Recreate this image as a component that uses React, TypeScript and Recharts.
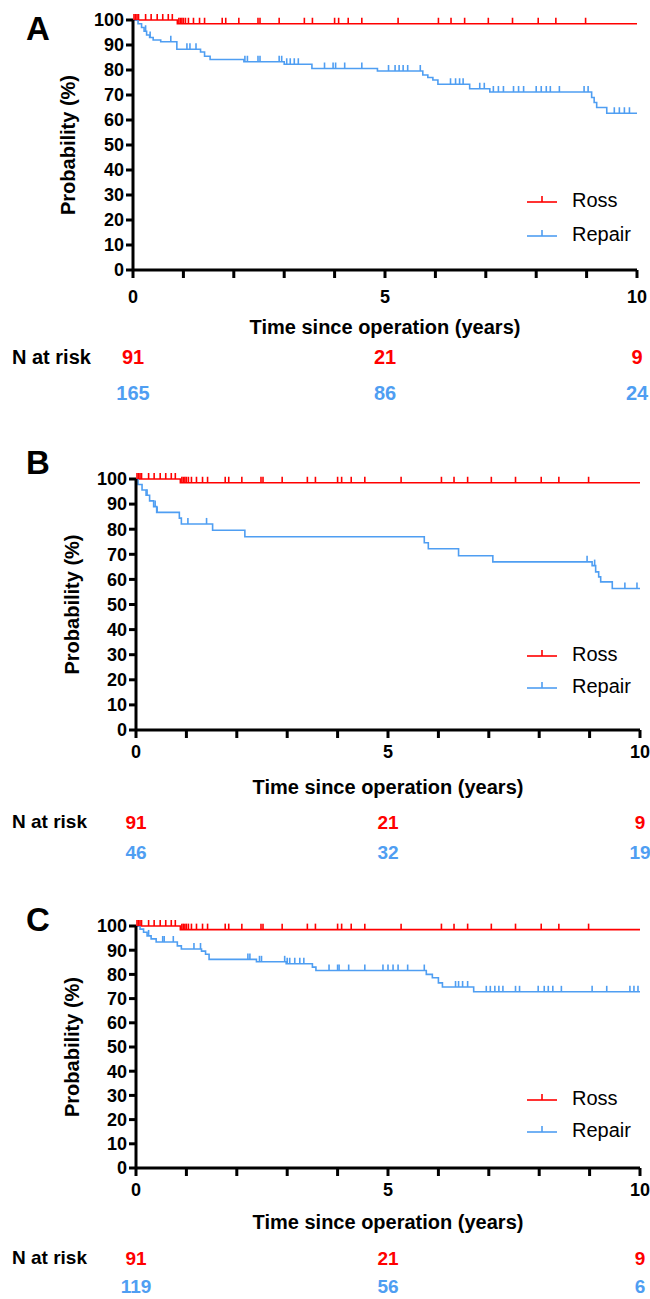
import React from "react";
import { ComposedChart, Line, Scatter, XAxis, YAxis, Legend } from "recharts";

const RED = "#ff0000";
const BLUE = "#4f9ef2";
const FONT = "'Liberation Sans', Arial, sans-serif";

const yTicks = [0, 10, 20, 30, 40, 50, 60, 70, 80, 90, 100];
const xTicks = [0, 1, 2, 3, 4, 5, 6, 7, 8, 9, 10];
const xLabelled = [0, 5, 10];
const riskTimes = [0, 5, 10];

// Ross cohort (same curve in every panel)
const rossTimes = [0, 0.88, 10];
const rossSurv = [100, 98.5, 98.5];
const rossCensor = [
    0.02, 0.05, 0.08, 0.11, 0.25, 0.36, 0.48, 0.59, 0.7, 0.78, 0.91, 0.94, 0.97, 1.0, 1.04, 1.1, 1.2,
    1.32, 1.42, 1.77, 1.84, 2.1, 2.48, 2.52, 2.9, 3.4, 3.56, 4.0, 4.08, 4.27, 4.54, 5.26, 6.06, 6.31,
    6.58, 7.05, 7.53, 8.04, 8.39, 8.98,
];
const rossRisk = [91, 21, 9];

// Panel A - repair
const repairATimes = [0, 0.1, 0.17, 0.22, 0.27, 0.33, 0.4, 0.55, 0.87, 1.34, 1.42, 1.53, 2.2, 3.0, 3.55, 4.85, 5.75, 5.85, 5.95, 6.05, 6.68, 7.08, 9.1, 9.15, 9.2, 9.4, 10];
const repairASurv = [100, 98.5, 97, 95.5, 94, 93, 92, 91.3, 88.3, 87.2, 85.5, 84.2, 83.3, 82.3, 80.6, 79.6, 78, 77, 76, 74.3, 72.5, 71.2, 69, 67, 65, 62.7, 62.7];
const repairACensor = [
    0.25, 0.34, 0.75, 1.07, 1.13, 1.25, 2.22, 2.27, 2.48, 2.52, 2.9, 2.95, 3.05, 3.12, 3.2, 3.28, 3.8,
    3.97, 4.02, 4.2, 4.54, 5.07, 5.2, 5.28, 5.36, 5.45, 5.7, 6.3, 6.4, 6.48, 6.55, 6.88, 6.97, 7.15,
    7.25, 7.35, 7.55, 7.65, 7.75, 8.0, 8.1, 8.2, 8.28, 8.46, 8.95, 9.03, 9.55, 9.65, 9.75, 9.85,
];
const repairARisk = [165, 86, 24];

// Panel B - repair
const repairBTimes = [0, 0.04, 0.12, 0.2, 0.27, 0.35, 0.41, 0.86, 0.9, 1.52, 2.16, 5.72, 5.8, 6.4, 7.08, 9.05, 9.12, 9.18, 9.22, 9.45, 10];
const repairBSurv = [100, 97.8, 95.6, 93.5, 91.3, 89, 86.7, 84.4, 82.1, 79.6, 77, 74.6, 72.2, 69.4, 67, 65.5, 63, 61, 59, 56.4, 56.4];
const repairBCensor = [0.22, 0.38, 0.42, 1.03, 1.4, 8.95, 9.1, 9.7, 9.94];
const repairBRisk = [46, 32, 19];

// Panel C - repair
const repairCTimes = [0, 0.08, 0.15, 0.22, 0.3, 0.4, 0.82, 0.9, 1.3, 1.38, 1.45, 2.39, 2.98, 3.5, 3.57, 5.76, 5.88, 6.0, 6.08, 6.7, 10];
const repairCSurv = [100, 98.7, 97.4, 95.9, 94.7, 93.4, 91.8, 90.5, 89.6, 88.3, 86.2, 85.2, 84.4, 83, 81.6, 80, 78.6, 76.5, 74.8, 72.8, 72.8];
const repairCCensor = [
    0.25, 0.53, 0.56, 0.74, 1.15, 1.28, 2.22, 2.26, 2.45, 2.49, 2.95, 3.0, 3.05, 3.15, 3.25, 3.33, 3.83,
    4.0, 4.03, 4.22, 4.54, 4.9, 5.0, 5.1, 5.2, 5.39, 5.72, 6.34, 6.4, 6.48, 6.58, 6.95, 7.03, 7.12, 7.2,
    7.28, 7.53, 7.61, 7.98, 8.1, 8.18, 8.27, 8.44, 9.05, 9.34, 9.8, 9.88, 9.96,
];
const repairCRisk = [119, 56, 6];

type Pt = { t: number; s: number };

const steps = (times: number[], surv: number[]): Pt[] => times.map((t, i) => ({ t, s: surv[i] }));

// survival level of the step curve at time t
const levelAt = (times: number[], surv: number[], t: number) => {
    let v = surv[0];
    times.forEach((tt, i) => {
        if (tt <= t) v = surv[i];
    });
    return v;
};

const censors = (times: number[], surv: number[], cens: number[]): Pt[] =>
    cens.map((t) => ({ t, s: levelAt(times, surv, t) }));

const censorShape = (color: string) => (p: any) => (
    <line x1={p.cx} x2={p.cx} y1={p.cy} y2={p.cy - 6} stroke={color} strokeWidth={1.6} />
);

const series = [
    { name: "Ross", color: RED },
    { name: "Repair", color: BLUE },
];

type Layout = {
    top: number;
    height: number;
    plotTop: number;
    plotBottom: number;
    left: number;
    right: number;
    tickY: number;
    titleY: number;
    risk1: number;
    risk2: number;
    leg1: number;
    leg2: number;
    letter: string;
    letterY: number;
    yTitleX: number;
    riskFont: number;
};

const layouts: Layout[] = [
    { top: 0, height: 412, plotTop: 20, plotBottom: 270, left: 133, right: 637, tickY: 297, titleY: 327, risk1: 357, risk2: 393, leg1: 200, leg2: 234, letter: "A", letterY: 29, yTitleX: 68, riskFont: 20 },
    { top: 440, height: 427, plotTop: 479, plotBottom: 730, left: 136, right: 640, tickY: 752, titleY: 787, risk1: 822, risk2: 852, leg1: 654, leg2: 686, letter: "B", letterY: 463, yTitleX: 72, riskFont: 19 },
    { top: 890, height: 409, plotTop: 926, plotBottom: 1168, left: 136, right: 640, tickY: 1190, titleY: 1222, risk1: 1258, risk2: 1286, leg1: 1098, leg2: 1130, letter: "C", letterY: 920, yTitleX: 72, riskFont: 19 },
];

type PanelProps = {
    lay: Layout;
    repTimes: number[];
    repSurv: number[];
    repCensor: number[];
    repRisk: number[];
};

function KMPanel({ lay, repTimes, repSurv, repCensor, repRisk }: PanelProps) {
    const rel = (y: number) => y - lay.top;
    const axisH = lay.height - rel(lay.plotBottom);
    const legGap = lay.leg2 - lay.leg1;
    const midY = (rel(lay.plotTop) + rel(lay.plotBottom)) / 2;

    // x tick: year label, plus the numbers at risk under 0, 5 and 10
    const timeTick = (p: any) => {
        const v = p.payload.value;
        const k = riskTimes.indexOf(v);
        return (
            <g fontFamily={FONT} fontWeight="bold" textAnchor="middle">
                {xLabelled.includes(v) && (
                    <text x={p.x} y={rel(lay.tickY)} dy="0.35em" fontSize={18} fill="#000">
                        {v}
                    </text>
                )}
                {k >= 0 && (
                    <text x={p.x} y={rel(lay.risk1)} dy="0.35em" fontSize={lay.riskFont} fill={RED}>
                        {rossRisk[k]}
                    </text>
                )}
                {k >= 0 && (
                    <text x={p.x} y={rel(lay.risk2)} dy="0.35em" fontSize={lay.riskFont} fill={BLUE}>
                        {repRisk[k]}
                    </text>
                )}
            </g>
        );
    };

    return (
        <div style={{ position: "absolute", top: lay.top, left: 0, width: 650, height: lay.height }}>
            <div
                style={{
                    position: "absolute",
                    left: 26,
                    top: rel(lay.letterY) - 22,
                    fontFamily: FONT,
                    fontWeight: "bold",
                    fontSize: 33,
                    lineHeight: "44px",
                }}
            >
                {lay.letter}
            </div>
            <div
                style={{
                    position: "absolute",
                    left: 12,
                    top: rel(lay.risk1) - 15,
                    fontFamily: FONT,
                    fontWeight: "bold",
                    fontSize: lay.riskFont,
                    lineHeight: "30px",
                }}
            >
                N at risk
            </div>
            <ComposedChart
                width={650}
                height={lay.height}
                margin={{ top: rel(lay.plotTop), right: 650 - lay.right, left: 0, bottom: 0 }}
            >
                <YAxis
                    type="number"
                    dataKey="s"
                    domain={[0, 100]}
                    ticks={yTicks}
                    width={lay.left}
                    interval={0}
                    axisLine={{ stroke: "#000", strokeWidth: 3 }}
                    tickLine={{ stroke: "#000", strokeWidth: 3 }}
                    tickSize={7}
                    tickMargin={2}
                    tick={{ fill: "#000", fontFamily: FONT, fontWeight: "bold", fontSize: 18 }}
                    label={{
                        content: () => (
                            <text
                                x={lay.yTitleX}
                                y={midY}
                                transform={`rotate(-90 ${lay.yTitleX} ${midY})`}
                                dy="0.35em"
                                textAnchor="middle"
                                fontFamily={FONT}
                                fontWeight="bold"
                                fontSize={20}
                                fill="#000"
                            >
                                Probability (%)
                            </text>
                        ),
                    }}
                />
                <XAxis
                    xAxisId="main"
                    type="number"
                    dataKey="t"
                    domain={[0, 10]}
                    ticks={xTicks}
                    interval={0}
                    height={axisH}
                    axisLine={{ stroke: "#000", strokeWidth: 3 }}
                    tickLine={{ stroke: "#000", strokeWidth: 3 }}
                    tickSize={8}
                    tick={timeTick}
                    label={{
                        content: () => (
                            <text
                                x={(lay.left + lay.right) / 2}
                                y={rel(lay.titleY)}
                                dy="0.35em"
                                textAnchor="middle"
                                fontFamily={FONT}
                                fontWeight="bold"
                                fontSize={20}
                                fill="#000"
                            >
                                Time since operation (years)
                            </text>
                        ),
                    }}
                />
                <Legend
                    layout="vertical"
                    align="center"
                    verticalAlign="middle"
                    wrapperStyle={{ left: 527, top: rel(lay.leg1) - legGap / 2, width: 123 }}
                    content={() => (
                        <div style={{ fontFamily: FONT, fontSize: 20 }}>
                            {series.map((s) => (
                                <div key={s.name} style={{ display: "flex", alignItems: "center", height: legGap }}>
                                    <svg width={30} height={16}>
                                        <line x1={0} x2={30} y1={10} y2={10} stroke={s.color} strokeWidth={1.6} />
                                        <line x1={15} x2={15} y1={10} y2={4} stroke={s.color} strokeWidth={1.6} />
                                    </svg>
                                    <span style={{ marginLeft: 15 }}>{s.name}</span>
                                </div>
                            ))}
                        </div>
                    )}
                />
                <Line
                    xAxisId="main"
                    data={steps(rossTimes, rossSurv)}
                    dataKey="s"
                    type="stepAfter"
                    stroke={RED}
                    strokeWidth={1.6}
                    dot={false}
                    isAnimationActive={false}
                />
                <Line
                    xAxisId="main"
                    data={steps(repTimes, repSurv)}
                    dataKey="s"
                    type="stepAfter"
                    stroke={BLUE}
                    strokeWidth={1.6}
                    dot={false}
                    isAnimationActive={false}
                />
                <Scatter
                    xAxisId="main"
                    data={censors(rossTimes, rossSurv, rossCensor)}
                    dataKey="s"
                    shape={censorShape(RED)}
                    isAnimationActive={false}
                />
                <Scatter
                    xAxisId="main"
                    data={censors(repTimes, repSurv, repCensor)}
                    dataKey="s"
                    shape={censorShape(BLUE)}
                    isAnimationActive={false}
                />
            </ComposedChart>
        </div>
    );
}

export default function App() {
    return (
        <div style={{ position: "absolute", top: 0, left: 0, width: 650, height: 1299, background: "#fff" }}>
            <KMPanel lay={layouts[0]} repTimes={repairATimes} repSurv={repairASurv} repCensor={repairACensor} repRisk={repairARisk} />
            <KMPanel lay={layouts[1]} repTimes={repairBTimes} repSurv={repairBSurv} repCensor={repairBCensor} repRisk={repairBRisk} />
            <KMPanel lay={layouts[2]} repTimes={repairCTimes} repSurv={repairCSurv} repCensor={repairCCensor} repRisk={repairCRisk} />
        </div>
    );
}
